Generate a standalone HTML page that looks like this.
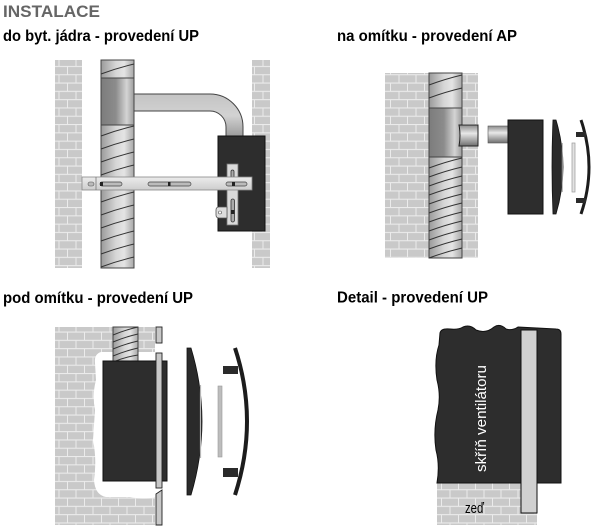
<!DOCTYPE html>
<html><head><meta charset="utf-8"><style>
html,body{margin:0;padding:0;background:#fff;width:600px;height:530px;overflow:hidden}
svg{display:block}
.h{font-family:"Liberation Sans",sans-serif;font-weight:bold}
.r{font-family:"Liberation Sans",sans-serif;font-weight:normal}
</style></head><body>
<svg width="600" height="530" viewBox="0 0 600 530" xmlns="http://www.w3.org/2000/svg">
<defs>
<pattern id="brick" width="34" height="16.6" patternUnits="userSpaceOnUse">
<rect width="34" height="16.6" fill="#ebebeb"/>
<rect x="0" y="0.6" width="16" height="7.2" fill="#c9c9c9"/>
<rect x="17" y="0.6" width="16" height="7.2" fill="#c9c9c9"/>
<rect x="-8.5" y="8.9" width="16" height="7.2" fill="#c9c9c9"/>
<rect x="8.5" y="8.9" width="16" height="7.2" fill="#c9c9c9"/>
<rect x="25.5" y="8.9" width="16" height="7.2" fill="#c9c9c9"/>
</pattern>
<linearGradient id="pipe" x1="0" x2="1" y1="0" y2="0">
<stop offset="0" stop-color="#9a9a9a"/><stop offset="0.45" stop-color="#d6d6d6"/><stop offset="0.7" stop-color="#e4e4e4"/><stop offset="1" stop-color="#a8a8a8"/>
</linearGradient>
<linearGradient id="band" x1="0" x2="1" y1="0" y2="0">
<stop offset="0" stop-color="#7c7c7c"/><stop offset="0.45" stop-color="#8c8c8c"/><stop offset="0.78" stop-color="#d4d4d4"/><stop offset="1" stop-color="#9c9c9c"/>
</linearGradient>
<linearGradient id="vstub" x1="0" x2="0" y1="0" y2="1">
<stop offset="0" stop-color="#8a8a8a"/><stop offset="0.4" stop-color="#e8e8e8"/><stop offset="1" stop-color="#6e6e6e"/>
</linearGradient>
<linearGradient id="elbow" x1="0" x2="0" y1="0" y2="1">
<stop offset="0" stop-color="#c4c4c4"/><stop offset="0.5" stop-color="#d2d2d2"/><stop offset="1" stop-color="#9a9a9a"/>
</linearGradient>
<linearGradient id="bar" x1="0" x2="0" y1="0" y2="1">
<stop offset="0" stop-color="#ececec"/><stop offset="1" stop-color="#cdcdcd"/>
</linearGradient>
</defs>

<!-- Headings -->
<text class="h" x="3" y="17" font-size="16.5" fill="#666" textLength="97" lengthAdjust="spacingAndGlyphs">INSTALACE</text>
<text class="h" x="3" y="41" font-size="15.5" fill="#000" textLength="196" lengthAdjust="spacingAndGlyphs">do byt. jádra - provedení UP</text>
<text class="h" x="337" y="41" font-size="15.5" fill="#000" textLength="180" lengthAdjust="spacingAndGlyphs">na omítku - provedení AP</text>
<text class="h" x="3" y="303" font-size="15.5" fill="#000" textLength="190" lengthAdjust="spacingAndGlyphs">pod omítku - provedení UP</text>
<text class="h" x="337" y="302.5" font-size="15.5" fill="#000" textLength="151" lengthAdjust="spacingAndGlyphs">Detail - provedení UP</text>

<!-- ===== Panel 1 ===== -->
<rect x="55" y="60" width="27" height="208" fill="url(#brick)"/>
<rect x="252" y="60" width="18" height="208" fill="url(#brick)"/>
<rect x="101" y="60" width="33" height="208" fill="url(#pipe)" stroke="#444" stroke-width="1"/>
<rect x="101" y="78" width="33" height="47" fill="url(#band)" stroke="#444" stroke-width="1"/>
<g fill="none" stroke="#333" stroke-width="1">
<path d="M101,74 Q117,68 134,64"/>
<path d="M101,136 Q117,130 134,126"/>
<path d="M101,149 Q117,143 134,139"/>
<path d="M101,162 Q117,156 134,152"/>
<path d="M101,175 Q117,169 134,165"/>
<path d="M101,202 Q117,196 134,192"/>
<path d="M101,215 Q117,209 134,205"/>
<path d="M101,228 Q117,222 134,218"/>
<path d="M101,241 Q117,235 134,231"/>
<path d="M101,254 Q117,248 134,244"/>
<path d="M101,267 Q117,261 134,257"/>
</g>
<path d="M134,94 L210,94 A33,33 0 0 1 243,127 L243,137 L226,137 L226,127 A16,16 0 0 0 210,111 L134,111 Z" fill="url(#elbow)" stroke="#444" stroke-width="1"/>
<rect x="218" y="136" width="47" height="95" fill="#2d2d2d" stroke="#111" stroke-width="1"/>
<rect x="227" y="164" width="11" height="61" fill="#dadada" stroke="#777" stroke-width="0.8"/>
<rect x="231" y="170" width="3" height="8" rx="1.5" fill="#aaa" stroke="#333" stroke-width="0.8"/>
<rect x="231" y="199" width="3.5" height="23" rx="1.7" fill="#aaa" stroke="#333" stroke-width="0.8"/>
<rect x="231" y="210" width="3.5" height="4" fill="#222"/>
<path d="M227,207 L219,207 Q216,207 216,210 L216,215 Q216,218 219,218 L227,218 Z" fill="#dcdcdc" stroke="#555" stroke-width="0.8"/>
<circle cx="220" cy="212.5" r="1.5" fill="#fff" stroke="#555" stroke-width="0.6"/>
<rect x="82" y="177" width="170" height="13" fill="url(#bar)" stroke="#888" stroke-width="0.8"/>
<line x1="96" y1="177" x2="96" y2="190" stroke="#777" stroke-width="0.8"/>
<rect x="88" y="182" width="6" height="4" rx="2" fill="#bbb" stroke="#555" stroke-width="0.6"/>
<rect x="100" y="182" width="22" height="4" rx="2" fill="#bbb" stroke="#444" stroke-width="0.7"/>
<rect x="100" y="182" width="3" height="4" fill="#222"/>
<rect x="148" y="182" width="43" height="4" rx="2" fill="#bbb" stroke="#444" stroke-width="0.7"/>
<rect x="168" y="182" width="2.5" height="4" fill="#222"/>
<rect x="226" y="182" width="21" height="4" rx="2" fill="#bbb" stroke="#444" stroke-width="0.7"/>
<rect x="232" y="182" width="3" height="4" fill="#222"/>

<!-- ===== Panel 2 ===== -->
<rect x="385" y="73" width="93" height="185" fill="url(#brick)"/>
<rect x="429" y="73" width="33" height="185" fill="url(#pipe)" stroke="#444" stroke-width="1"/>
<rect x="429" y="108" width="33" height="49" fill="url(#band)" stroke="#444" stroke-width="1"/>
<g fill="none" stroke="#333" stroke-width="1">
<path d="M429,85 Q445,79 462,75"/>
<path d="M429,98 Q445,92 462,88"/>
<path d="M429,168 Q445,162 462,158"/>
<path d="M429,177 Q445,171 462,167"/>
<path d="M429,186 Q445,180 462,176"/>
<path d="M429,195 Q445,189 462,185"/>
<path d="M429,204 Q445,198 462,194"/>
<path d="M429,213 Q445,207 462,203"/>
<path d="M429,222 Q445,216 462,212"/>
<path d="M429,231 Q445,225 462,221"/>
<path d="M429,240 Q445,234 462,230"/>
<path d="M429,249 Q445,243 462,239"/>
<path d="M429,258 Q445,252 462,248"/>
</g>
<path d="M459,125 L478,125 L478,146 L459,146 Q461,135.5 459,125 Z" fill="url(#vstub)" stroke="#222" stroke-width="1"/>
<rect x="488" y="126" width="20" height="17" fill="url(#vstub)" stroke="#555" stroke-width="0.6"/>
<rect x="508" y="120" width="35" height="94" fill="#2d2d2d" stroke="#111" stroke-width="1"/>
<path d="M553,120 L556,120 Q570,167 556,214 L553,214 Q551,167 553,120 Z" fill="#2a2a2a" stroke="#111" stroke-width="0.8"/>
<line x1="562.3" y1="143" x2="562.3" y2="192" stroke="#aaa" stroke-width="1"/>
<rect x="572" y="143" width="3" height="49" fill="#e2e2e2" stroke="#999" stroke-width="0.7"/>
<path d="M581,120 Q597,167 581,214" fill="none" stroke="#1c1c1c" stroke-width="3"/>
<rect x="576" y="132" width="10" height="5" fill="#2a2a2a"/>
<rect x="576" y="198" width="10" height="5" fill="#2a2a2a"/>

<!-- ===== Panel 3 ===== -->
<rect x="55" y="327" width="100" height="198" fill="url(#brick)"/>
<path d="M113,352 L101,352 Q94,354 95,363 L96,380 Q92,395 95,410 L93,440 Q97,460 94,480 Q95,495 106,497 L130,497 Q145,500 156,497 L156,352 L138,352 Z" fill="#fff"/>
<rect x="113" y="327" width="25" height="35" fill="url(#pipe)" stroke="#444" stroke-width="1"/>
<g fill="none" stroke="#333" stroke-width="1">
<path d="M113,335 Q125,330 138,327"/>
<path d="M113,342 Q125,337 138,334"/>
<path d="M113,349 Q125,344 138,341"/>
<path d="M113,356 Q125,351 138,348"/>
<path d="M113,362 Q125,357 138,355"/>
</g>
<rect x="103" y="361" width="64" height="120" fill="#2d2d2d" stroke="#111" stroke-width="1"/>
<rect x="156" y="327" width="6" height="16" fill="#c8c8c8" stroke="#222" stroke-width="0.9"/>
<rect x="156" y="353" width="6" height="135" fill="#c8c8c8" stroke="#222" stroke-width="0.9"/>
<path d="M156,494 L162,490 L162,525 L156,525 Z" fill="#c8c8c8" stroke="#222" stroke-width="0.9"/>
<path d="M187,348 L191,348 Q213,421 191,495 L187,495 Z" fill="#2a2a2a" stroke="#111" stroke-width="0.8"/>
<line x1="200.5" y1="385" x2="200.5" y2="458" stroke="#b5b5b5" stroke-width="1.2"/>
<rect x="218" y="386" width="4" height="71" fill="#bdbdbd" stroke="#999" stroke-width="0.6"/>
<path d="M235,348 Q259,421 235,495" fill="none" stroke="#1c1c1c" stroke-width="4"/>
<rect x="223" y="366" width="15" height="8" fill="#2a2a2a"/>
<rect x="223" y="468" width="15" height="9" fill="#2a2a2a"/>

<!-- ===== Panel 4 ===== -->
<rect x="437" y="483" width="100" height="42" fill="url(#brick)"/>
<path d="M440,333 Q441,328 450,329 Q458,330 463,327 Q470,324 476,330 Q486,334 494,327 Q500,323 506,329 Q512,331 518,327 L556,329 Q561,329 561,334 L561,483 L437,483 Q440,465 436,450 Q433,430 438,410 Q441,395 437,380 Q434,360 439,345 Z" fill="#2d2d2d" stroke="#111" stroke-width="1"/>
<rect x="521" y="330" width="16" height="183" fill="#d0d0d0" stroke="#111" stroke-width="1"/>
<text class="r" transform="translate(486,472) rotate(-90)" font-size="15" fill="#fff" textLength="107" lengthAdjust="spacingAndGlyphs">skříň ventilátoru</text>
<text class="r" x="465" y="513" font-size="15" fill="#000" textLength="19" lengthAdjust="spacingAndGlyphs">zeď</text>
</svg>
</body></html>
